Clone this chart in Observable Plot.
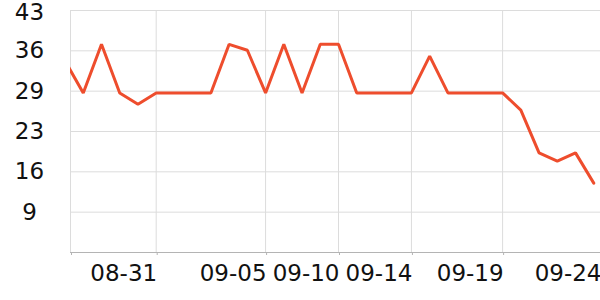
<!DOCTYPE html>
<html>
<head>
<meta charset="utf-8">
<script src="https://cdn.jsdelivr.net/npm/d3@7"></script>
<script src="https://cdn.jsdelivr.net/npm/@observablehq/plot@0.6"></script>
<style>
  html, body { margin: 0; padding: 0; background: #fff; }
  #chart svg { display: block; }
</style>
</head>
<body>
<div id="chart"></div>
<script>
// Series values, one per category (first one lies just left of the frame and is clipped)
const values = [34.5, 29.1, 37.3, 29.1, 27.2, 29.1, 29.1, 29.1, 29.1, 37.3, 36.3, 29.1, 37.3, 29.1, 37.3, 37.3,
                29.1, 29.1, 29.1, 29.1, 35.3, 29.1, 29.1, 29.1, 29.1, 26.2, 19.0, 17.6, 19.0, 13.9];
// Category positions that carry a date label, and the labels
const tickIndex = [4, 10, 14, 18, 23, 28.37];
const tickLabels = ["08-31", "09-05", "09-10", "09-14", "09-19", "09-24"];
// Y axis ticks (labels are rounded)
const yTicks = [9.0, 15.8, 22.6, 29.4, 36.2, 43.0];
const yDomain = [2.2, 43.0];
const xDomain = [-0.7, 28.37];

const data = values.map((v, k) => ({i: k - 1, v}));
const labelMap = new Map(tickIndex.map((t, k) => [t, tickLabels[k]]));
const yFmt = d => String(Math.round(d));
const yAxisOpts = {tickFormat: yFmt, tickSize: 0, tickPadding: 41, textAnchor: "middle", fontSize: 23, fill: "#111", label: null};

const chart = Plot.plot({
  width: 600,
  height: 300,
  marginLeft: 70,
  marginRight: 0,
  marginTop: 10,
  marginBottom: 48,
  style: {fontFamily: "DejaVu Sans", fontSize: "23px", color: "#111", background: "#fff"},
  x: {type: "linear", domain: xDomain, label: null},
  y: {domain: yDomain, label: null},
  marks: [
    Plot.ruleY(yTicks, {stroke: "#dcdcdc", strokeWidth: 1}),
    Plot.ruleX([xDomain[0], ...tickIndex], {stroke: "#dcdcdc", strokeWidth: 1}),
    Plot.ruleY([yDomain[0]], {stroke: "#b4b4b4", strokeWidth: 1}),
    Plot.axisY({...yAxisOpts, ticks: yTicks.slice(0, -1)}),
    Plot.axisY({...yAxisOpts, ticks: yTicks.slice(-1), dy: 2}),
    Plot.axisX({ticks: [xDomain[0], ...tickIndex], tickFormat: d => labelMap.get(d) ?? "",
                tickSize: 3, tickPadding: 9, textAnchor: "end", dx: 1, fontSize: 23, stroke: "#b4b4b4", fill: "#111", label: null}),
    Plot.line(data, {x: "i", y: "v", stroke: "#ee4d2d", strokeWidth: 3, clip: true, strokeLinejoin: "miter"})
  ]
});
document.getElementById("chart").append(chart);
</script>
</body>
</html>
